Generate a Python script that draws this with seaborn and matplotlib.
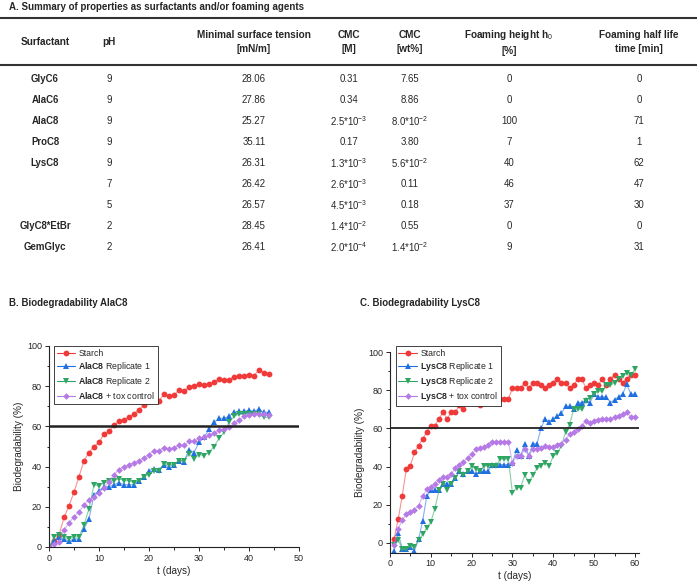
import numpy as np
import pandas as pd
import matplotlib
matplotlib.use('Agg')
import matplotlib.pyplot as plt
from matplotlib.lines import Line2D
from matplotlib.ticker import MultipleLocator
import seaborn as sns

sns.set_style('ticks')
plt.rcParams['font.family'] = ['Liberation Sans', 'DejaVu Sans']
plt.rcParams['mathtext.fontset'] = 'custom'
plt.rcParams['mathtext.rm'] = 'Liberation Sans'
plt.rcParams['mathtext.bf'] = 'Liberation Sans:bold'

# ---- table data (panel A) ----
header = ['Surfactant', 'pH', 'Minimal surface tension\n[mN/m]', 'CMC\n[M]', 'CMC\n[wt%]',
          'Foaming height h$_0$\n[%]', 'Foaming half life\ntime [min]']
surfactant = ['GlyC6', 'AlaC6', 'AlaC8', 'ProC8', 'LysC8', '', '', 'GlyC8*EtBr', 'GemGlyc']
ph = ['9', '9', '9', '9', '9', '7', '5', '2', '2']
tension = ['28.06', '27.86', '25.27', '35.11', '26.31', '26.42', '26.57', '28.45', '26.41']
cmc_m = ['0.31', '0.34', '2.5*10$^{-3}$', '0.17', '1.3*10$^{-3}$', '2.6*10$^{-3}$', '4.5*10$^{-3}$',
         '1.4*10$^{-2}$', '2.0*10$^{-4}$']
cmc_wt = ['7.65', '8.86', '8.0*10$^{-2}$', '3.80', '5.6*10$^{-2}$', '0.11', '0.18', '0.55', '1.4*10$^{-2}$']
foam_h = ['0', '0', '100', '7', '40', '46', '37', '0', '9']
foam_t = ['0', '0', '71', '1', '62', '47', '30', '0', '31']

# ---- panel B: AlaC8 ----
days_b = list(range(0, 45))
starch_b = [0, 3, 6, 14.7, 20.5, 27.3, 35, 43, 47, 50, 52, 56.3, 57.5, 60.5, 62.7, 63.4, 64.8, 66.3,
            68.4, 70.8, 72.5, 74.5, 72.8, 75.9, 75, 75.7, 78, 77.4, 79.8, 80.1, 81, 80.8, 81, 82,
            83.5, 83, 83.3, 84.8, 85, 85.3, 85.4, 85.3, 88.2, 86.5, 86.3]
rep1_b = [0, 3, 5, 4, 3, 4, 4, 9, 14, 26, 28, 30, 30, 31, 32, 31, 31, 31, 33, 35, 38, 39, 38.5,
          41, 40, 41, 43, 42.5, 48.5, 47, 52, 54.5, 58.5, 62, 64, 64, 65, 67, 67.5, 67.5, 68, 67.5,
          68.5, 67, 67]
rep2_b = [0, 5, 6, 5, 4, 5, 5, 11, 19, 31, 30.5, 32, 33, 33, 34, 33, 33, 32, 33, 35, 36, 38, 38,
          41.5, 41, 41, 43, 43, 46.5, 44, 46, 45.5, 47, 50, 54, 57, 62, 65, 66, 66, 66, 66, 66,
          64.5, 64.5]
tox_b = [0, 1.5, 2.5, 8.5, 12, 15, 17.5, 21, 23.5, 25, 27, 29.5, 32.5, 36, 38.5, 40, 41, 42, 43,
         44.5, 46, 48, 48, 49.5, 49, 49.5, 50.5, 50.5, 52.5, 52.5, 54, 54.5, 55.5, 56.5, 58, 58.5,
         59.5, 61.5, 63, 65, 65.5, 66, 66, 66, 65.5]

# ---- panel C: LysC8 ----
days_c = list(range(1, 61))
starch_c = [2, 12.4, 24.7, 38.7, 40.5, 47.5, 51, 54.5, 58, 61.5, 61.5, 65, 68.5, 65, 68.5, 68.5,
            72, 70, 75.5, 75.5, 73.5, 72, 75.5, 75.5, 75.5, 75.5, 75.5, 75.5, 75.5, 81, 81, 81, 84,
            81, 84, 84, 82.5, 81, 82.5, 84, 86, 84, 84, 81, 82.5, 86, 86, 81, 82.5, 84, 82.5, 86,
            82.5, 86, 88, 86, 84, 86, 88, 88]
rep1_c = [-4, 5, -3, -3, -2, -4, 2, 11.5, 24.5, 27.5, 27.5, 27.5, 31, 31, 31, 34, 37.5, 36, 37.5,
          37.5, 36, 37.5, 37.5, 37.5, 41, 41, 41, 41, 41, 42, 48.5, 45.5, 52, 45.5, 52, 52, 60, 65,
          63.5, 65, 66.5, 68, 71.5, 71.5, 70, 73.5, 73.5, 75, 73.5, 78, 76.5, 76.5, 76.5, 73.5, 75,
          76.5, 78, 83, 78, 78]
rep2_c = [-1, 1.5, -3, -3, -1.5, -2, 1.5, 4.5, 8, 11, 18, 27.5, 31, 27.5, 31, 34, 37.5, 35.5, 37.5,
          40.5, 38.5, 37.5, 40.5, 40.5, 40.5, 40.5, 44, 44, 44, 26, 29, 29, 35.5, 32, 35.5, 39,
          40.5, 42, 40.5, 45.5, 47, 51, 58, 62, 70, 70, 70, 74.5, 76, 78, 79.5, 79.5, 82.5, 82.5,
          84, 86, 87.5, 89, 88, 91]
tox_c = [-1, 7.5, 12, 15, 16, 17.5, 19.5, 24.5, 28, 29.5, 31, 33, 34.5, 34.5, 36, 39.5, 41, 42.5,
         44.5, 46.5, 49, 49.5, 50, 51.5, 53, 53, 53, 53, 53, 42, 45.5, 45.5, 49, 45.5, 49, 49, 49.5,
         51, 50, 50.5, 51.5, 52, 54, 57, 58, 59.5, 61.5, 64, 63, 64, 64.5, 65, 65, 65, 66, 66.5,
         67.5, 68.5, 66, 66]

W, H = 697, 587
fig = plt.figure(figsize=(W / 100, H / 100), dpi=100)


def px(x, y):
    return x / W, 1 - y / H


# ---- panel A: table drawn as text ----
fig.text(*px(9, 7), 'A. Summary of properties as surfactants and/or foaming agents',
         fontsize=7, fontweight='bold', ha='left', va='center')
for yl in (18, 65):
    fig.add_artist(Line2D([0, 1], [1 - yl / H] * 2, color='#333333', lw=1.5))

col_x = [45, 109, 254, 349, 410, 509, 639]
for cx, txt in zip(col_x, header):
    fig.text(*px(cx, 42), txt, fontsize=7.2, fontweight='bold', ha='center', va='center',
             linespacing=1.5)

columns = [surfactant, ph, tension, cmc_m, cmc_wt, foam_h, foam_t]
for i in range(len(surfactant)):
    y = 79 + 21 * i
    for j, (cx, col) in enumerate(zip(col_x, columns)):
        fig.text(*px(cx, y), col[i], fontsize=6.9, ha='center', va='center',
                 fontweight='bold' if j == 0 else 'normal')

fig.text(*px(9, 303), 'B. Biodegradability AlaC8', fontsize=7, fontweight='bold', va='center')
fig.text(*px(360, 303), 'C. Biodegradability LysC8', fontsize=7, fontweight='bold', va='center')

colors = {'Starch': '#f03a3a', 'Replicate 1': '#1f6fe0', 'Replicate 2': '#2ea562',
          '+ tox control': '#b57ae6'}
markers = {'Starch': 'o', 'Replicate 1': '^', 'Replicate 2': 'v', '+ tox control': 'D'}
msize = {'Starch': 4.2, 'Replicate 1': 4.2, 'Replicate 2': 4.2, '+ tox control': 3.4}


def panel(ax, days, series, name, xmax, xmaj, ylo, hline_lw):
    rows = []
    for key, vals in series.items():
        for d, v in zip(days, vals):
            rows.append({'day': d, 'value': v, 'series': key})
    df = pd.DataFrame(rows)
    for key in series:
        sub = df[df['series'] == key]
        sns.lineplot(data=sub, x='day', y='value', ax=ax, color=colors[key], lw=0.8,
                     alpha=0.55, legend=False)
        sns.lineplot(data=sub, x='day', y='value', ax=ax, color=colors[key], lw=0,
                     marker=markers[key], markersize=msize[key], markeredgewidth=0,
                     legend=False)
    ax.axhline(60, color='#222222', lw=hline_lw, zorder=5)
    ax.set_xlim(0, xmax)
    ax.set_ylim(ylo, 100)
    ax.xaxis.set_major_locator(MultipleLocator(xmaj))
    ax.xaxis.set_minor_locator(MultipleLocator(xmaj / 2))
    ax.yaxis.set_major_locator(MultipleLocator(20))
    ax.yaxis.set_minor_locator(MultipleLocator(10))
    ax.tick_params(which='major', length=3, width=0.7, labelsize=6.5, direction='out', pad=2)
    ax.tick_params(which='minor', length=1.8, width=0.7, direction='out')
    for s in ('top', 'right'):
        ax.spines[s].set_visible(False)
    for s in ('left', 'bottom'):
        ax.spines[s].set_linewidth(0.8)
        ax.spines[s].set_color('#222222')
    ax.set_xlabel('t (days)', fontsize=7.2, labelpad=2)
    ax.set_ylabel('Biodegradability (%)', fontsize=7.2, labelpad=2)
    handles = []
    labels = []
    for key in series:
        handles.append(Line2D([], [], color=colors[key], marker=markers[key],
                              markersize=msize[key], markeredgewidth=0, lw=0.8))
        labels.append('Starch' if key == 'Starch' else r'$\mathbf{' + name + '}$ ' + key)
    return handles, labels


ax_b = fig.add_axes([49 / W, 1 - 547 / H, 250 / W, 201 / H])
hb, lb = panel(ax_b, days_b, {'Starch': starch_b, 'Replicate 1': rep1_b, 'Replicate 2': rep2_b,
                              '+ tox control': tox_b}, 'AlaC8', 50, 10, 0, 1.8)
leg = ax_b.legend(hb, lb, loc='upper left', bbox_to_anchor=(0.02, 1.0), fontsize=6.3,
                  frameon=True, fancybox=False, edgecolor='#222222', framealpha=1,
                  handlelength=2.1, labelspacing=0.25, borderpad=0.3, handletextpad=0.4,
                  borderaxespad=0)
leg.get_frame().set_linewidth(0.6)

ax_c = fig.add_axes([390 / W, 1 - 552.5 / H, 249 / W, 200.5 / H])
hc, lc = panel(ax_c, days_c, {'Starch': starch_c, 'Replicate 1': rep1_c, 'Replicate 2': rep2_c,
                              '+ tox control': tox_c}, 'LysC8', 61, 10, -5, 1.3)
leg = ax_c.legend(hc, lc, loc='upper left', bbox_to_anchor=(0.023, 1.03), fontsize=6.3,
                  frameon=True, fancybox=False, edgecolor='#222222', framealpha=1,
                  handlelength=2.1, labelspacing=0.25, borderpad=0.3, handletextpad=0.4,
                  borderaxespad=0)
leg.get_frame().set_linewidth(0.6)

fig.savefig('out.png', dpi=100)
